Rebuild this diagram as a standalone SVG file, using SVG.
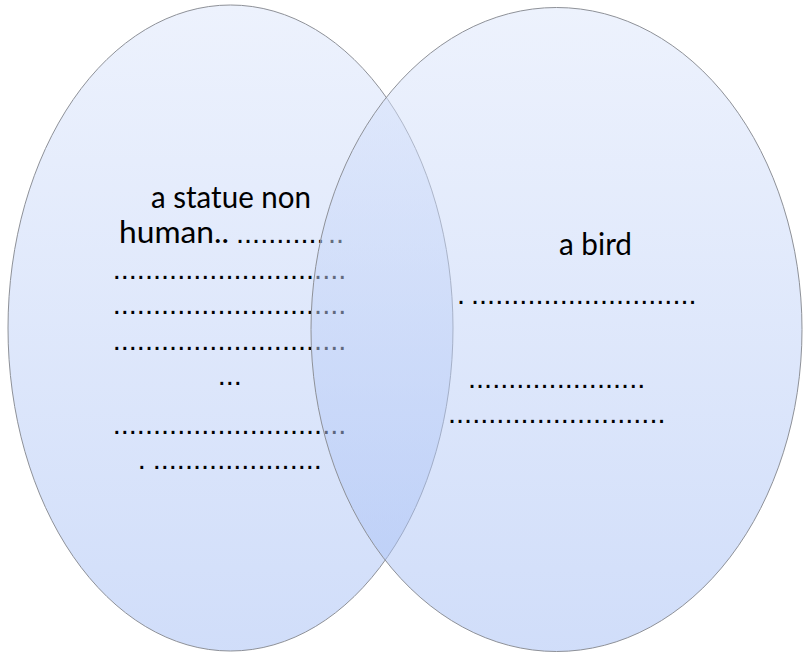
<svg xmlns="http://www.w3.org/2000/svg" width="803" height="657" viewBox="0 0 803 657">
  <defs>
    <!-- shared vertical fill for both sets -->
    <linearGradient id="setFill" x1="0" y1="0" x2="0" y2="1">
      <stop offset="0" stop-color="#dbe5fb"/>
      <stop offset="1" stop-color="#a2bcf4"/>
    </linearGradient>
    <style>
      .set { fill: url(#setFill); fill-opacity: 0.5; stroke: #8e9198; stroke-width: 1; }
      .label { font-family: "Lato", "Open Sans", "Liberation Sans", sans-serif; font-size: 30px; fill: #000; }
      .dots { font-family: "Liberation Sans", Arial, sans-serif; font-size: 29px; fill: #000; }
    </style>
  </defs>

  <rect width="803" height="657" fill="#ffffff"/>

  <!-- left set with its contents -->
  <g id="set-left">
    <ellipse class="set" cx="230.5" cy="328" rx="222.5" ry="323"/>
    <text class="label" x="151" y="208" textLength="160" lengthAdjust="spacingAndGlyphs">a statue non</text>
    <text class="label" y="243"><tspan x="119" textLength="110" lengthAdjust="spacingAndGlyphs">human..</tspan><tspan class="dots" x="236">...........</tspan><tspan class="dots" x="328">..</tspan></text>
    <text class="dots" x="112.7" y="279">.............................</text>
    <text class="dots" x="112.7" y="314">.............................</text>
    <text class="dots" x="112.7" y="350">.............................</text>
    <text class="dots" x="217.7" y="385">...</text>
    <text class="dots" x="112.7" y="434">.............................</text>
    <text class="dots" y="469"><tspan x="137.7">.</tspan><tspan x="152.7">.....................</tspan></text>
  </g>

  <!-- right set with its contents -->
  <g id="set-right">
    <ellipse class="set" cx="556.5" cy="329.5" rx="245.5" ry="322"/>
    <text class="label" x="559" y="255" textLength="73" lengthAdjust="spacingAndGlyphs">a bird</text>
    <text class="dots" y="304"><tspan x="457">.</tspan><tspan x="471">............................</tspan></text>
    <text class="dots" x="468" y="388">......................</text>
    <text class="dots" x="448" y="423">...........................</text>
  </g>
</svg>
